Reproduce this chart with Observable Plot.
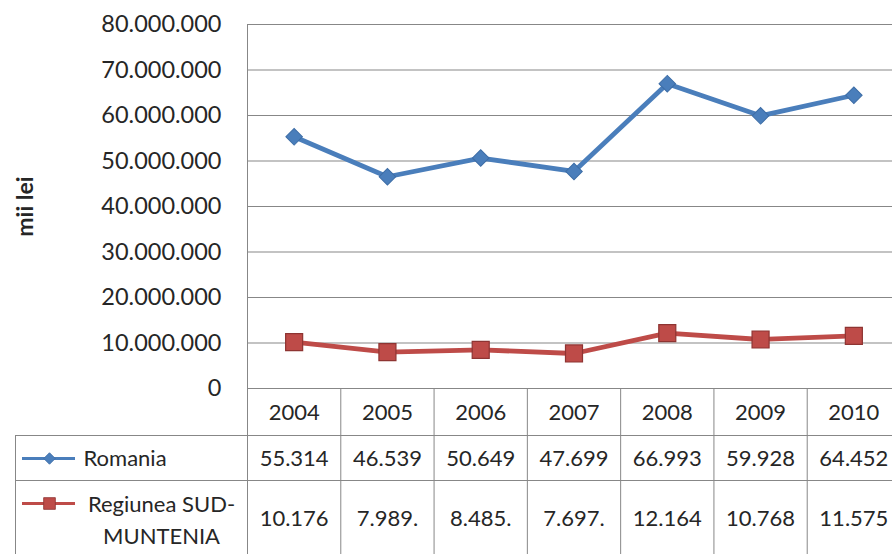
<!DOCTYPE html>
<html><head><meta charset="utf-8">
<script src="https://cdn.jsdelivr.net/npm/d3@7"></script>
<script src="https://cdn.jsdelivr.net/npm/@observablehq/plot@0.6"></script>
<style>
html,body{margin:0;padding:0;background:#fff;}
body{width:892px;height:554px;overflow:hidden;}
</style>
</head><body><div id="chart"></div>
<script>
// ---- data ----
const years = ["2004", "2005", "2006", "2007", "2008", "2009", "2010"];
const seriesNames = ["Romania", "Regiunea SUD-MUNTENIA"];
const seriesLabels = ["Romania", "Regiunea SUD-\nMUNTENIA"];
const romania = [55314000, 46539000, 50649000, 47699000, 66993000, 59928000, 64452000];
const sudMuntenia = [10176000, 7989000, 8485000, 7697000, 12164000, 10768000, 11575000];
const yTicks = [0, 10000000, 20000000, 30000000, 40000000, 50000000, 60000000, 70000000, 80000000];
const yLabel = "mii lei";

// ---- styles ----
const colors = ["#4A7EBB", "#BE4B48"];
const markerStroke = ["#3D6DA6", "#8E3432"];
const gridColor = "#878787";
const textColor = "#262626";

const loc = d3.formatLocale({decimal: ",", thousands: ".", grouping: [3], currency: ["", ""]});
const fmt = loc.format(",d");

const allSeries = [romania, sudMuntenia];
const data = [];
allSeries.forEach((vals, s) => vals.forEach((v, i) => data.push({series: seriesNames[s], i, year: years[i], value: v})));

const edges = years.map((d, i) => i + 0.5);

const rowDy = [70, 130];      // value rows (centre offset below the frame)
const swatchDy = [70, 115];   // legend swatch rows
const marks = [
  Plot.gridY(yTicks, {stroke: gridColor, strokeOpacity: 1, strokeWidth: 1}),
  Plot.axisY(yTicks, {tickSize: 0, tickPadding: 26, tickFormat: fmt, fontSize: 23.5, fill: textColor, label: null}),
  // left axis line continues through the table
  Plot.ruleX([-0.5], {x: d => d, stroke: gridColor, insetBottom: -166}),
  // table column borders
  Plot.ruleX(edges, {x: d => d, y1: 0, y2: 0, stroke: gridColor, insetBottom: -166}),
  // table row borders
  Plot.ruleY([0], {y: d => d, dy: 47, insetLeft: -232, stroke: gridColor}),
  Plot.ruleY([0], {y: d => d, dy: 92, insetLeft: -232, stroke: gridColor}),
  Plot.ruleX([-0.5], {x: d => d, y1: 0, y2: 0, dx: -232, insetTop: 47, insetBottom: -166, stroke: gridColor}),
  // header years
  Plot.text(years, {x: (d, i) => i, text: d => d, frameAnchor: "bottom", lineAnchor: "middle", dy: 24, fill: textColor}),
  // y label
  Plot.text([yLabel], {text: d => d, frameAnchor: "left", textAnchor: "middle", lineAnchor: "middle", dx: -222, rotate: -90, fontWeight: "bold", fontSize: 23, fill: textColor}),
  // lines
  Plot.line(data, {x: "i", y: "value", z: "series", stroke: "series", strokeWidth: 4.8, strokeLinejoin: "round"}),
  Plot.dot(data.filter(d => d.series === seriesNames[0]), {x: "i", y: "value", symbol: "square", rotate: 45, r: 6.6, fill: colors[0], stroke: markerStroke[0], strokeWidth: 1}),
  Plot.dot(data.filter(d => d.series === seriesNames[1]), {x: "i", y: "value", symbol: "square", r: 9.6, fill: colors[1], stroke: markerStroke[1], strokeWidth: 1.2})
];

allSeries.forEach((vals, s) => {
  marks.push(
    Plot.text(vals, {x: (d, i) => i, text: d => fmt(d).slice(0, 6), frameAnchor: "bottom", lineAnchor: "middle", dy: rowDy[s], fill: textColor}),
    Plot.ruleY([0], {y: d => d, dy: swatchDy[s], insetLeft: -225, insetRight: 817, stroke: colors[s], strokeWidth: 3}),
    Plot.dot([seriesNames[s]], {frameAnchor: "bottom-left", dx: -198, dy: swatchDy[s], symbol: "square", rotate: s === 0 ? 45 : 0, r: s === 0 ? 4.6 : 6.6, fill: colors[s], stroke: markerStroke[s], strokeWidth: 0.8})
  );
});
marks.push(
  Plot.text([seriesLabels[0]], {text: d => d, frameAnchor: "bottom-left", lineAnchor: "middle", dx: -164, dy: rowDy[0], textAnchor: "start", fill: textColor}),
  Plot.text([seriesLabels[1]], {text: d => d, frameAnchor: "bottom-left", lineAnchor: "middle", dx: -86, dy: 129, textAnchor: "middle", lineHeight: 1.45, fill: textColor})
);

const chart = Plot.plot({
  width: 892,
  height: 554,
  marginLeft: 247,
  marginTop: 24,
  marginBottom: 166,
  marginRight: 0,
  style: {fontFamily: "Lato, sans-serif", fontSize: "22px", color: textColor, background: "#fff", overflow: "hidden"},
  x: {domain: [-0.5, years.length - 0.5], range: [247, 900], axis: null},
  y: {domain: [0, 80000000], axis: null},
  color: {domain: seriesNames, range: colors},
  marks
});
document.getElementById("chart").appendChild(chart);
</script>
</body></html>
